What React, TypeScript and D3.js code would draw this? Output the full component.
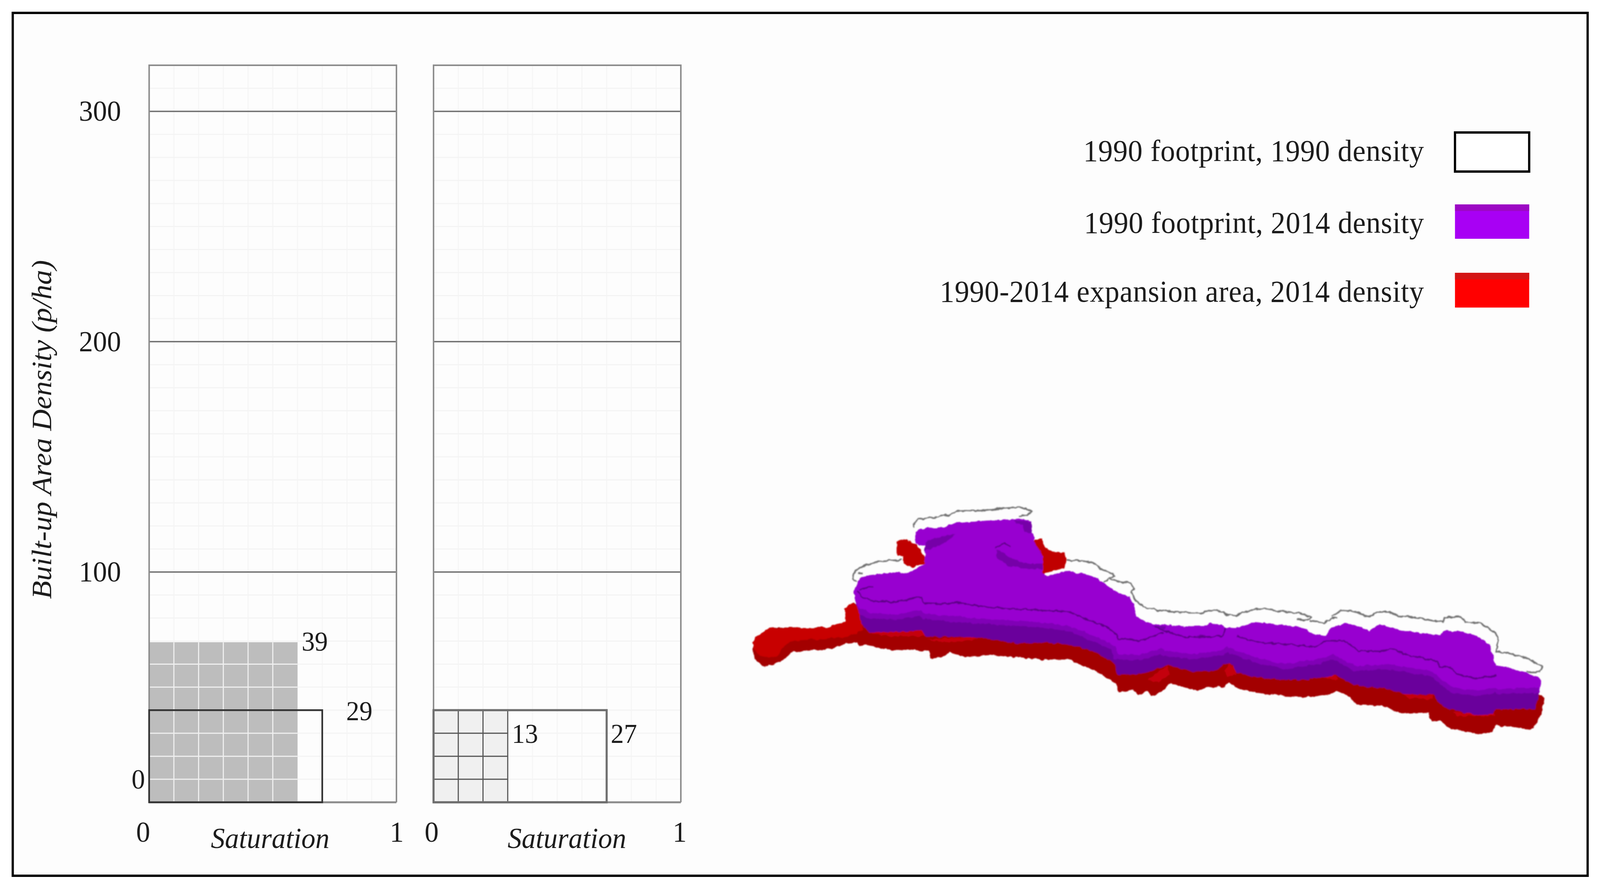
import React, { useEffect, useRef } from 'react';
import * as d3 from 'd3';

type Pt = [number, number];

const WIDTH = 4270;
const HEIGHT = 2280;
const SERIF = '"Liberation Serif", serif';

// Left diagram values
const densityTicks = [100, 200, 300];
const gridDensity = d3.range(0, 321, 10);
const gridSaturation = d3.range(0, 1.01, 0.1);
const outerSaturation = [0.7, 0.7];
const outerDensity = [40, 40];
const outerLabels = ['29', '27'];
const innerSaturation = [0.6, 0.3];
const innerDensity = [69.5, 40];
const innerLabels = ['39', '13'];

// Legend
const legendLabels = [
  '1990 footprint, 1990 density',
  '1990 footprint, 2014 density',
  '1990-2014 expansion area, 2014 density',
];
const legendWidths = [909, 907, 1292];
const legendFill = ['#ffffff', '#a800f4', '#ff0000'];
const legendBand = ['#ffffff', '#9c08c4', '#d41414'];

// Map shapes in map units
const redSilhouette: Pt[] = [
  [20, 880], [35, 850], [110, 800], [160, 795], [340, 800], [385, 795], [460, 795], [520, 770], [560, 765],
  [555, 690], [600, 660], [700, 700], [1500, 760], [2568, 900], [3500, 1000], [4300, 1150], [4584, 1170],
  [4619, 1185], [4604, 1280], [4559, 1355], [4524, 1365], [4339, 1340], [4319, 1375], [4254, 1395], [4074, 1360],
  [4014, 1315], [3969, 1320], [3944, 1270], [3804, 1275], [3674, 1235], [3524, 1225], [3484, 1180], [3414, 1150],
  [3384, 1165], [3254, 1185], [3114, 1180], [2948, 1160], [2828, 1130], [2793, 1105], [2758, 1125], [2658, 1130],
  [2608, 1150], [2528, 1130], [2448, 1105], [2378, 1165], [2338, 1178], [2308, 1150], [2258, 1175], [2228, 1140],
  [2148, 1160], [2128, 1110], [2068, 1070], [1968, 1020], [1858, 975], [1708, 975], [1568, 965], [1400, 950],
  [1250, 960], [1160, 935], [1130, 960], [1055, 970], [1040, 930], [960, 925], [800, 920], [680, 895], [640, 900],
  [625, 880], [560, 885], [480, 915], [350, 925], [235, 935], [200, 980], [140, 1000], [90, 1020], [30, 970], [20, 900],
];
const redTail: Pt[] = [
  [20, 880], [35, 850], [110, 800], [340, 800], [460, 795], [520, 770], [560, 765], [555, 690], [600, 660], [650, 700],
  [660, 810], [620, 830], [560, 850], [400, 860], [240, 875], [200, 900], [160, 960], [60, 960], [20, 900],
];
const redSpots: Pt[][] = [
  [[2318, 1090], [2380, 1040], [2430, 1010], [2440, 1060], [2380, 1100]],
  [[2758, 1040], [2790, 1000], [2815, 1010], [2830, 1060], [2780, 1070]],
  [[3340, 1080], [3370, 1060], [3405, 1065], [3420, 1090]],
  [[3684, 1135], [3715, 1100], [3745, 1135]],
  [[3800, 1165], [3970, 1175], [3975, 1195], [3830, 1190]],
  [[4090, 1270], [4330, 1275], [4340, 1290], [4120, 1290]],
  [[680, 825], [880, 820], [1015, 810], [1020, 845], [800, 845]],
  [[1030, 860], [1300, 850], [1330, 865], [1130, 880]],
];
const redPatchLeft: Pt[] = [
  [860, 315], [915, 305], [970, 335], [1020, 400], [1020, 440], [950, 460], [895, 440], [890, 405], [860, 395],
];
const redPatchRight: Pt[] = [
  [1658, 305], [1698, 305], [1718, 350], [1758, 375], [1833, 380], [1843, 410], [1833, 465], [1768, 480], [1718, 495],
  [1713, 520], [1668, 510], [1663, 490], [1703, 480], [1703, 400], [1653, 320],
];
const purpleTopEdge: Pt[] = [
  [610, 590], [625, 560], [640, 525], [700, 505], [780, 495], [860, 490], [920, 495], [950, 480], [1020, 440],
  [1020, 340], [965, 330], [965, 265], [1000, 245], [1130, 240], [1200, 210], [1350, 205], [1500, 195], [1568, 190],
  [1618, 200], [1640, 210], [1643, 270], [1658, 290], [1653, 310], [1703, 400], [1703, 490], [1728, 510], [1808, 490],
  [1858, 485], [1948, 500], [2008, 515], [2058, 550], [2118, 590], [2208, 625], [2233, 660], [2248, 730], [2288, 760],
  [2368, 780], [2568, 790], [2658, 785], [2678, 775], [2738, 780], [2768, 797], [2828, 800], [2918, 775], [2988, 770],
  [3114, 785], [3174, 790], [3244, 805], [3259, 830], [3349, 845], [3384, 800], [3459, 770], [3524, 785], [3604, 815],
  [3664, 780], [3734, 800], [3794, 815], [4014, 840], [4039, 815], [4144, 820], [4244, 850], [4304, 900], [4339, 1010],
  [4424, 1025], [4514, 1050], [4584, 1075], [4599, 1095], [4589, 1160],
];
const purpleBottomEdge: Pt[] = [
  [4564, 1250], [4334, 1250], [4319, 1280], [4234, 1285], [4064, 1250], [4014, 1220], [3974, 1170], [3814, 1165],
  [3684, 1135], [3524, 1120], [3404, 1060], [3344, 1075], [3244, 1085], [3114, 1090], [2968, 1075], [2828, 1050],
  [2808, 1000], [2758, 1000], [2698, 1040], [2568, 1040], [2448, 1010], [2418, 1005], [2338, 1040], [2268, 1055],
  [2138, 1060], [2128, 1000], [2008, 930], [1868, 890], [1718, 880], [1568, 885], [1300, 850], [1020, 845], [1000, 810],
  [880, 820], [700, 825], [650, 770], [630, 680], [610, 640],
];
const purpleBandEdge: Pt[] = [
  [4589, 1160], [4584, 1130], [4354, 1140], [4334, 1130], [4224, 1150], [4084, 1130], [3994, 1060], [3964, 1040],
  [3714, 1000], [3524, 1010], [3394, 945], [3314, 970], [3114, 1000], [2968, 970], [2828, 925], [2778, 900], [2738, 925],
  [2568, 945], [2413, 925], [2398, 910], [2268, 950], [2138, 945], [2128, 900], [2018, 850], [1868, 790], [1718, 770],
  [1568, 760], [1300, 745], [1020, 720], [1000, 700], [850, 725], [700, 715], [640, 690], [625, 660], [610, 640],
];
const purpleShadows: Pt[][] = [
  [[1020, 320], [1100, 290], [1200, 275], [1130, 330], [1020, 370]],
  [[1435, 360], [1440, 410], [1500, 450], [1600, 470], [1703, 470], [1703, 440], [1600, 440], [1500, 400], [1460, 370]],
  [[1540, 195], [1640, 210], [1643, 270], [1600, 265], [1590, 225], [1550, 215]],
  [[2338, 785], [2420, 790], [2410, 815]],
  [[2600, 840], [2650, 838], [2655, 858], [2610, 858]],
];
const purpleLines: Pt[][] = [
  [[625, 590], [650, 625], [720, 650], [850, 655], [960, 630], [1005, 630], [1015, 660], [1150, 665], [1200, 655], [1350, 680],
    [1568, 695], [1718, 700], [1858, 710], [1968, 755], [2068, 790], [2128, 830], [2148, 860], [2268, 870], [2348, 845], [2408, 825]],
  [[2358, 795], [2418, 815], [2528, 850], [2618, 850], [2748, 845], [2768, 800]],
  [[2833, 845], [2968, 880], [3136, 890], [3284, 905], [3354, 870], [3454, 870], [3544, 925], [3674, 930], [3724, 915], [3814, 945],
    [3994, 985], [4014, 1015], [4074, 1020], [4114, 1055], [4214, 1080], [4344, 1065]],
  [[640, 585], [720, 570]],
  [[1430, 350], [1480, 325], [1520, 345]],
];
const outline1990: Pt[][] = [
  [[885, 420], [780, 425], [680, 445], [615, 480], [600, 520], [625, 545]],
  [[625, 495], [660, 495]],
  [[960, 235], [955, 215], [985, 190], [1100, 180], [1170, 165], [1200, 148], [1350, 145], [1480, 130], [1568, 125],
    [1608, 135], [1638, 150], [1613, 170], [1568, 175]],
  [[1843, 420], [1908, 425], [1998, 435], [2038, 470], [2113, 495], [2118, 510], [2058, 545]],
  [[2098, 525], [2148, 540], [2218, 550], [2233, 580], [2218, 600], [2248, 650], [2288, 680], [2368, 700], [2468, 710],
    [2638, 715], [2668, 700], [2738, 705], [2778, 725], [2828, 730], [2868, 710], [2968, 690], [3136, 710], [3214, 720],
    [3264, 740], [3244, 755], [3179, 750]],
  [[3254, 760], [3344, 770], [3384, 745], [3414, 745]],
  [[3384, 735], [3444, 700], [3514, 705], [3604, 740], [3644, 710], [3714, 710], [3774, 730], [3894, 745], [4034, 768],
    [4039, 740], [4134, 735], [4164, 765], [4244, 770], [4324, 820], [4349, 850], [4349, 900], [4339, 930], [4414, 940],
    [4524, 970], [4609, 1015], [4594, 1045], [4514, 1045]],
];

const App: React.FC = () => {
  const svgRef = useRef<SVGSVGElement>(null);

  useEffect(() => {
    if (!svgRef.current) return;
    const svg = d3.select(svgRef.current);
    svg.selectAll('*').remove();

    svg.append('rect').attr('width', WIDTH).attr('height', HEIGHT).attr('fill', '#ffffff');
    // Outer frame
    svg.append('rect')
      .attr('x', 34).attr('y', 33).attr('width', 4203).attr('height', 2208)
      .attr('fill', '#fdfdfd').attr('stroke', '#000').attr('stroke-width', 6);

    const y = d3.scaleLinear().domain([0, 320]).range([2053, 167]);
    const panelLeft = [398, 1157];
    const panelW = 660;

    panelLeft.forEach((left, i) => {
      const x = d3.scaleLinear().domain([0, 1]).range([left, left + panelW]);
      const g = svg.append('g');

      // Faint background grid
      g.append('g').selectAll('line').data(gridSaturation).join('line')
        .attr('x1', d => x(d)).attr('x2', d => x(d)).attr('y1', y(320)).attr('y2', y(0))
        .attr('stroke', '#f6f6f6').attr('stroke-width', 3);
      g.append('g').selectAll('line').data(gridDensity).join('line')
        .attr('x1', x(0)).attr('x2', x(1)).attr('y1', d => y(d)).attr('y2', d => y(d))
        .attr('stroke', '#f4f4f4').attr('stroke-width', 3);

      // Inner block with its own grid
      const iw = innerSaturation[i];
      const id = innerDensity[i];
      g.append('rect')
        .attr('x', x(0)).attr('y', y(id)).attr('width', x(iw) - x(0)).attr('height', y(0) - y(id))
        .attr('fill', i === 0 ? '#bdbdbd' : '#f0f0f0');
      const lineCol = i === 0 ? '#efefef' : '#555';
      // the right panel's block also has a dark right edge
      const innerV = gridSaturation.filter(s => s > 0 && (i === 0 ? s < iw - 0.01 : s < iw + 0.01));
      g.append('g').selectAll('line').data(innerV).join('line')
        .attr('x1', d => x(d)).attr('x2', d => x(d)).attr('y1', y(id)).attr('y2', y(0))
        .attr('stroke', lineCol).attr('stroke-width', 3);
      g.append('g').selectAll('line').data(gridDensity.filter(s => s > 0 && s < id - 1)).join('line')
        .attr('x1', x(0)).attr('x2', x(iw)).attr('y1', d => y(d)).attr('y2', d => y(d))
        .attr('stroke', lineCol).attr('stroke-width', 3);

      // Major lines and panel border
      g.append('g').selectAll('line').data(densityTicks).join('line')
        .attr('x1', x(0)).attr('x2', x(1)).attr('y1', d => y(d)).attr('y2', d => y(d))
        .attr('stroke', '#6f6f6f').attr('stroke-width', 3.5);
      g.append('path')
        .attr('d', `M${x(0)},${y(0)}V${y(320)}H${x(1)}V${y(0)}`)
        .attr('fill', 'none').attr('stroke', '#8c8c8c').attr('stroke-width', 4);
      g.append('line')
        .attr('x1', x(0)).attr('x2', x(1)).attr('y1', y(0)).attr('y2', y(0))
        .attr('stroke', '#8c8c8c').attr('stroke-width', 5);

      // Outer block outline
      g.append('rect')
        .attr('x', x(0)).attr('y', y(outerDensity[i]))
        .attr('width', x(outerSaturation[i]) - x(0)).attr('height', y(0) - y(outerDensity[i]))
        .attr('fill', 'none')
        .attr('stroke', i === 0 ? '#333' : '#6e6e6e')
        .attr('stroke-width', i === 0 ? 4.5 : 5.5);

      // Tick labels
      const xLabel = (s: string, px: number, py: number, size: number, italic = false) =>
        g.append('text').attr('x', px).attr('y', py).attr('text-anchor', 'middle')
          .attr('font-family', SERIF).attr('font-size', size).attr('fill', '#1c1c1c')
          .attr('font-style', italic ? 'italic' : 'normal').text(s);
      xLabel('0', x(0) + (i === 0 ? -16 : -5), 2154, 75);
      xLabel('1', x(1) + (i === 0 ? 1 : -3), 2154, 75);
      xLabel('Saturation', x(0.5) + (i === 0 ? -7 : 26), 2170, 75, true);
      xLabel(innerLabels[i], i === 0 ? 840 : 1401, i === 0 ? 1665 : 1901, 70);
      xLabel(outerLabels[i], i === 0 ? 959 : 1665, i === 0 ? 1843 : 1901, 70);
    });

    // Density axis
    const axis = svg.append('g')
      .attr('transform', 'translate(398,0)')
      .call(d3.axisLeft(y).tickValues(densityTicks).tickSize(0).tickPadding(75));
    axis.select('.domain').remove();
    axis.selectAll('text')
      .attr('font-family', SERIF).attr('font-size', 75).attr('fill', '#1c1c1c');
    svg.append('text')
      .attr('x', 387).attr('y', y(6)).attr('text-anchor', 'end')
      .attr('font-family', SERIF).attr('font-size', 72).attr('fill', '#1c1c1c').text('0');
    svg.append('text')
      .attr('transform', 'translate(137,1099) rotate(-90)').attr('text-anchor', 'middle')
      .attr('font-family', SERIF).attr('font-style', 'italic').attr('font-size', 76).attr('fill', '#1c1c1c')
      .text('Built-up Area Density (p/ha)');

    // Legend
    const legendTop = [339, 523, 698];
    const legendH = [100, 88, 89];
    const legendBase = [412, 596, 772];
    legendLabels.forEach((label, i) => {
      svg.append('text')
        .attr('x', 3800).attr('y', legendBase[i]).attr('text-anchor', 'end')
        .attr('font-family', SERIF).attr('font-size', 78).attr('fill', '#1c1c1c')
        .attr('textLength', legendWidths[i]).attr('lengthAdjust', 'spacing')
        .text(label);
      svg.append('rect')
        .attr('x', 3883).attr('y', legendTop[i]).attr('width', 198).attr('height', legendH[i])
        .attr('fill', legendFill[i])
        .attr('stroke', i === 0 ? '#000' : 'none').attr('stroke-width', 6);
      if (i > 0) {
        svg.append('rect')
          .attr('x', 3883).attr('y', legendTop[i]).attr('width', 198).attr('height', 17)
          .attr('fill', legendBand[i]);
      }
    });

    // Map
    const mapX = d3.scaleLinear().domain([0, 1568]).range([2000, 2720]);
    const mapY = d3.scaleLinear().domain([0, 1568]).range([1240, 1960]);
    const line = d3.line<Pt>().x(d => mapX(d[0])).y(d => mapY(d[1]));
    const closed = (pts: Pt[]) => `${line(pts)}Z`;

    // Rough, slightly soft edges like the scanned map
    const defs = svg.append('defs');
    const filter = defs.append('filter').attr('id', 'rough')
      .attr('filterUnits', 'userSpaceOnUse')
      .attr('x', 1950).attr('y', 1200).attr('width', 2250).attr('height', 760);
    filter.append('feTurbulence')
      .attr('type', 'fractalNoise').attr('baseFrequency', 0.07).attr('numOctaves', 2).attr('seed', 4).attr('result', 'n');
    filter.append('feDisplacementMap')
      .attr('in', 'SourceGraphic').attr('in2', 'n').attr('scale', 9)
      .attr('xChannelSelector', 'R').attr('yChannelSelector', 'G').attr('result', 'd');
    filter.append('feGaussianBlur').attr('in', 'd').attr('stdDeviation', 1.4);
    const silhouette = closed([...purpleTopEdge, ...purpleBottomEdge]);
    defs.append('clipPath').attr('id', 'purple-clip').append('path').attr('d', silhouette);

    const map = svg.append('g').attr('filter', 'url(#rough)');

    outline1990.forEach(pts => {
      map.append('path').attr('d', line(pts)).attr('fill', 'none')
        .attr('stroke', '#6e6e6e').attr('stroke-width', 4).attr('stroke-linejoin', 'round');
    });
    map.append('path').attr('d', closed(redSilhouette)).attr('fill', '#a30000');
    map.append('path').attr('d', closed(redTail)).attr('fill', '#c80000');
    redSpots.forEach(pts => {
      map.append('path').attr('d', closed(pts)).attr('fill', '#c40010');
    });
    [redPatchLeft, redPatchRight].forEach(pts => {
      map.append('path').attr('d', closed(pts)).attr('fill', '#c00000');
    });
    map.append('path').attr('d', silhouette).attr('fill', '#6a009c');
    // Step of mid tone between the lit top and the dark side
    map.append('g').attr('clip-path', 'url(#purple-clip)').append('path')
      .attr('d', line(purpleBandEdge)).attr('fill', 'none')
      .attr('stroke', '#8000b6').attr('stroke-width', 26);
    map.append('path').attr('d', closed([...purpleTopEdge, ...purpleBandEdge])).attr('fill', '#9800d0');
    purpleShadows.forEach(pts => {
      map.append('path').attr('d', closed(pts)).attr('fill', '#7600a8');
    });
    purpleLines.forEach(pts => {
      map.append('path').attr('d', line(pts)).attr('fill', 'none')
        .attr('stroke', '#5e0088').attr('stroke-width', 4).attr('stroke-linejoin', 'round');
    });
  }, []);

  // The window can be narrower than the reference, so the whole chart is fitted into it
  return (
    <svg
      ref={svgRef}
      viewBox={`0 0 ${WIDTH} ${HEIGHT}`}
      preserveAspectRatio="none"
      style={{ position: 'absolute', left: 0, top: 0, width: '100vw', height: '100vh', display: 'block' }}
    />
  );
};

export default App;
